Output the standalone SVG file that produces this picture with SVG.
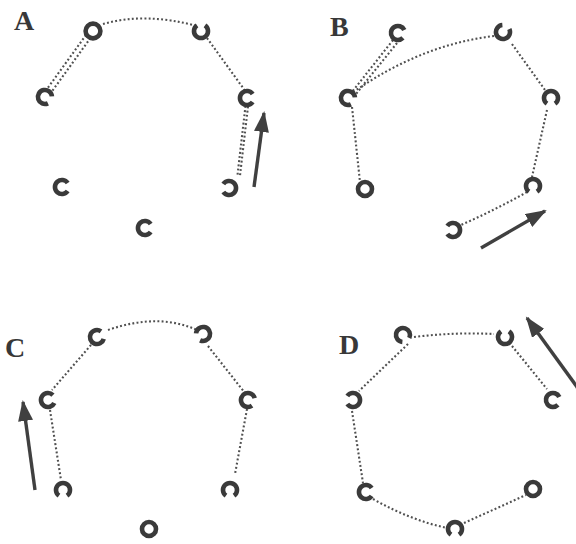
<svg xmlns="http://www.w3.org/2000/svg" width="576" height="544" viewBox="0 0 576 544">
<style>
.ring{fill:none;stroke:#3a3a3a;stroke-width:4.6}
.dot{fill:none;stroke:#505050;stroke-width:2.1;stroke-dasharray:1.9 2.3}
.arr{fill:none;stroke:#404040;stroke-width:3.4}
.lbl{font-family:"Liberation Serif",serif;font-weight:bold;font-size:28px;fill:#383838}
</style>
<defs>
<path id="c" d="M5.7,4 A7,7 0 1 1 5.7,-4"/>
<marker id="ah" markerUnits="userSpaceOnUse" markerWidth="22" markerHeight="15" refX="19" refY="7.5" orient="auto">
<path d="M0,0 L21,7.5 L0,15 z" fill="#404040"/>
</marker>
</defs>
<rect width="576" height="544" fill="#fff"/>
<g id="labels">
<text class="lbl" x="14" y="30">A</text>
<text class="lbl" x="330" y="36">B</text>
<text class="lbl" x="5" y="357">C</text>
<text class="lbl" x="339" y="354">D</text>
</g>
<g id="connectors">
<path class="dot" d="M86,35 L47,89"/>
<path class="dot" d="M90.5,38 L51.5,92"/>
<path class="dot" d="M103,24 Q145,12 197,26"/>
<path class="dot" d="M207,38 L246,92"/>
<path class="dot" d="M245.5,106 L237.5,175"/>
<path class="dot" d="M248,106.5 L240,175.5"/>
<path class="dot" d="M393,40 L352,92"/>
<path class="dot" d="M397,43 L356,94"/>
<path class="dot" d="M494,36 Q420,45 352,93"/>
<path class="dot" d="M512,44 L545,90"/>
<path class="dot" d="M547,110 L532,177"/>
<path class="dot" d="M352,107 L360,182"/>
<path class="dot" d="M527,192 Q495,210 461,225"/>
<path class="dot" d="M108,330 Q160,312 199,331"/>
<path class="dot" d="M91,345 L52,390"/>
<path class="dot" d="M208,346 L245,393"/>
<path class="dot" d="M50,410 L61,480"/>
<path class="dot" d="M247,409 L235,474"/>
<path class="dot" d="M414,337 Q455,332 494,334"/>
<path class="dot" d="M408,344 L359,391"/>
<path class="dot" d="M512,346 L547,389"/>
<path class="dot" d="M352,411 L363,483"/>
<path class="dot" d="M373,499 Q410,520 447,528"/>
<path class="dot" d="M464,523 L526,495"/>
<path class="arr" d="M254,187 L264,113" marker-end="url(#ah)"/>
<path class="arr" d="M481,248 L545,211" marker-end="url(#ah)"/>
<path class="arr" d="M35,490 L23,402" marker-end="url(#ah)"/>
<path class="arr" d="M580,391 L527,318" marker-end="url(#ah)"/>
</g>
<g id="A-rings">
<g id="a1"><circle class="ring" cx="93" cy="31" r="7.4" stroke-width="5.4"/></g>
<g id="a2"><use href="#c" class="ring" transform="translate(201,31) rotate(-90)"/></g>
<g id="a3"><use href="#c" class="ring" transform="translate(45,97) rotate(30)"/></g>
<g id="a4"><use href="#c" class="ring" transform="translate(247,98)"/></g>
<g id="a5"><use href="#c" class="ring" transform="translate(229,188) rotate(180)"/></g>
<g id="a6"><use href="#c" class="ring" transform="translate(62,187)"/></g>
<g id="a7"><use href="#c" class="ring" transform="translate(145,228)"/></g>
</g>
<g id="B-rings">
<g id="b1"><use href="#c" class="ring" transform="translate(398,33) rotate(10)"/></g>
<g id="b2"><use href="#c" class="ring" transform="translate(503,32) rotate(-60)"/></g>
<g id="b3"><use href="#c" class="ring" transform="translate(348,98) rotate(30)"/></g>
<g id="b4"><use href="#c" class="ring" transform="translate(551,98) rotate(90)"/></g>
<g id="b5"><circle class="ring" cx="365" cy="189" r="7"/></g>
<g id="b6"><use href="#c" class="ring" transform="translate(533,186) rotate(90)"/></g>
<g id="b7"><use href="#c" class="ring" transform="translate(453,230) rotate(180)"/></g>
</g>
<g id="C-rings">
<g id="c1"><use href="#c" class="ring" transform="translate(97,337) rotate(-20)"/></g>
<g id="c2"><use href="#c" class="ring" transform="translate(203,334) rotate(150)"/></g>
<g id="c3"><use href="#c" class="ring" transform="translate(48,400) rotate(-10)"/></g>
<g id="c4"><use href="#c" class="ring" transform="translate(248,400) rotate(20)"/></g>
<g id="c5"><use href="#c" class="ring" transform="translate(63,490) rotate(90)"/></g>
<g id="c6"><use href="#c" class="ring" transform="translate(230,490) rotate(90)"/></g>
<g id="c7"><circle class="ring" cx="149" cy="529" r="7"/></g>
</g>
<g id="D-rings">
<g id="d1"><use href="#c" class="ring" transform="translate(403,335) rotate(60)"/></g>
<g id="d2"><use href="#c" class="ring" transform="translate(505,337) rotate(-90)"/></g>
<g id="d3"><use href="#c" class="ring" transform="translate(353,400) rotate(180)"/></g>
<g id="d4"><use href="#c" class="ring" transform="translate(553,400) rotate(10)"/></g>
<g id="d5"><use href="#c" class="ring" transform="translate(366,492)"/></g>
<g id="d6"><use href="#c" class="ring" transform="translate(455,529) rotate(90)"/></g>
<g id="d7"><circle class="ring" cx="533" cy="489" r="7"/></g>
</g>
</svg>
